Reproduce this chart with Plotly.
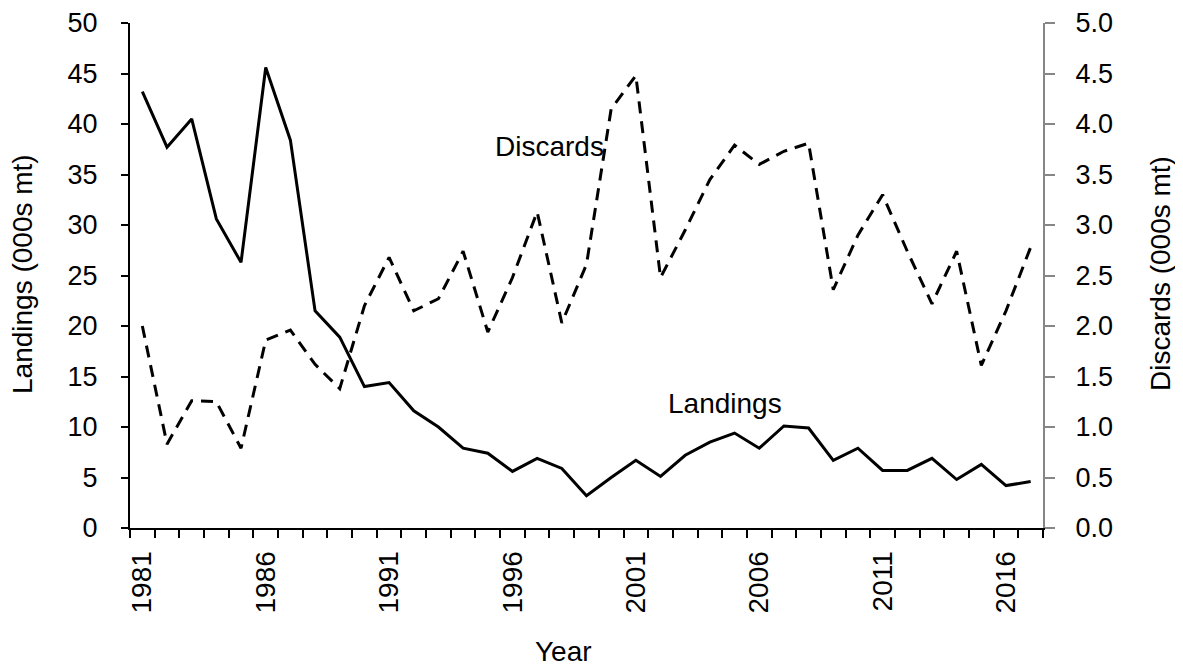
import plotly.graph_objects as go

# values
years = list(range(1981, 2018))

landings = [43.2, 37.7, 40.5, 30.6, 26.3, 45.6, 38.4, 21.5, 18.9, 14.0,
            14.4, 11.6, 10.0, 7.9, 7.4, 5.6, 6.9, 5.9, 3.2, 5.0,
            6.7, 5.1, 7.2, 8.5, 9.4, 7.9, 10.1, 9.9, 6.7, 7.9,
            5.7, 5.7, 6.9, 4.8, 6.3, 4.2, 4.6]

discards = [2.00, 0.83, 1.26, 1.25, 0.79, 1.86, 1.96, 1.62, 1.38, 2.20,
            2.68, 2.15, 2.27, 2.74, 1.94, 2.48, 3.13, 2.03, 2.61, 4.15,
            4.48, 2.48, 2.95, 3.45, 3.79, 3.60, 3.73, 3.81, 2.36, 2.90,
            3.30, 2.74, 2.22, 2.74, 1.61, 2.15, 2.78]

label_years = [1981, 1986, 1991, 1996, 2001, 2006, 2011, 2016]
left_ticks = list(range(0, 51, 5))
right_ticks = [i * 0.5 for i in range(11)]

FONT = "Liberation Sans, Arial, sans-serif"
GREY = "#868686"
FS = 28

# page has an 8px body margin, so the figure is drawn 8px in from the corner
OFF = 8
W, H = 1183 - OFF, 668 - OFF
L, R, T, B = 130 - OFF, 140, 23 - OFF, 140
PW, PH = W - L - R, H - T - B

fig = go.Figure()

fig.add_trace(go.Scatter(
    x=years, y=landings, mode="lines", name="Landings",
    line=dict(color="black", width=3),
))

fig.add_trace(go.Scatter(
    x=years, y=discards, mode="lines", name="Discards", yaxis="y2",
    line=dict(color="black", width=3, dash="12px,8px"),
))

# series labels placed in the plot, as in the original
fig.add_annotation(x=1997.5, y=37.8, xref="x", yref="y", text="Discards",
                   showarrow=False, font=dict(size=FS, color="black"))
fig.add_annotation(x=2004.6, y=12.3, xref="x", yref="y", text="Landings",
                   showarrow=False, font=dict(size=FS, color="black"))


def page_pos(px, py):
    # page pixel position -> paper coordinates
    return (px - OFF - L) / PW, 1 - (py - OFF - T) / PH


for txt, px, py, ang in [("Landings (000s mt)", 22, 274, -90),
                         ("Discards (000s mt)", 1160, 274, -90),
                         ("Year", 563, 651, 0)]:
    ax, ay = page_pos(px, py)
    fig.add_annotation(x=ax, y=ay, xref="paper", yref="paper", text=txt,
                       xanchor="center", yanchor="middle",
                       showarrow=False, textangle=ang,
                       font=dict(size=FS, color="black"))

fig.update_layout(
    width=W, height=H,
    margin=dict(l=L, r=R, t=T, b=B, autoexpand=False),
    plot_bgcolor="white", paper_bgcolor="white",
    showlegend=False,
    font=dict(family=FONT, size=FS, color="black"),
    xaxis=dict(
        range=[1980.5, 2017.5],
        tickmode="array", tickvals=label_years,
        ticktext=[str(y) for y in label_years],
        tickangle=-90, ticks="outside", ticklen=0,
        ticklabelstandoff=10,
        showline=True, linecolor="black", linewidth=2,
        showgrid=False, zeroline=False,
        minor=dict(tickmode="array",
                   tickvals=[y - 0.5 for y in years] + [years[-1] + 0.5],
                   ticks="outside", ticklen=8, tickwidth=2, tickcolor="black",
                   showgrid=False),
    ),
    yaxis=dict(
        range=[0, 50], tickmode="array", tickvals=left_ticks,
        ticks="outside", ticklen=7, tickwidth=2, tickcolor="black",
        tickfont=dict(size=27),
        ticklabelstandoff=18, ticklabeloverflow="allow",
        showline=True, linecolor="black", linewidth=2,
        showgrid=False, zeroline=False,
    ),
    yaxis2=dict(
        range=[0, 5], overlaying="y", side="right",
        tickmode="array", tickvals=right_ticks,
        ticktext=[f"{v:.1f}" for v in right_ticks],
        ticks="outside", ticklen=10, tickwidth=2, tickcolor=GREY,
        tickfont=dict(size=27),
        ticklabelstandoff=15, ticklabeloverflow="allow",
        showline=True, linecolor=GREY, linewidth=2,
        showgrid=False, zeroline=False,
    ),
)

fig.write_html("out.html")
